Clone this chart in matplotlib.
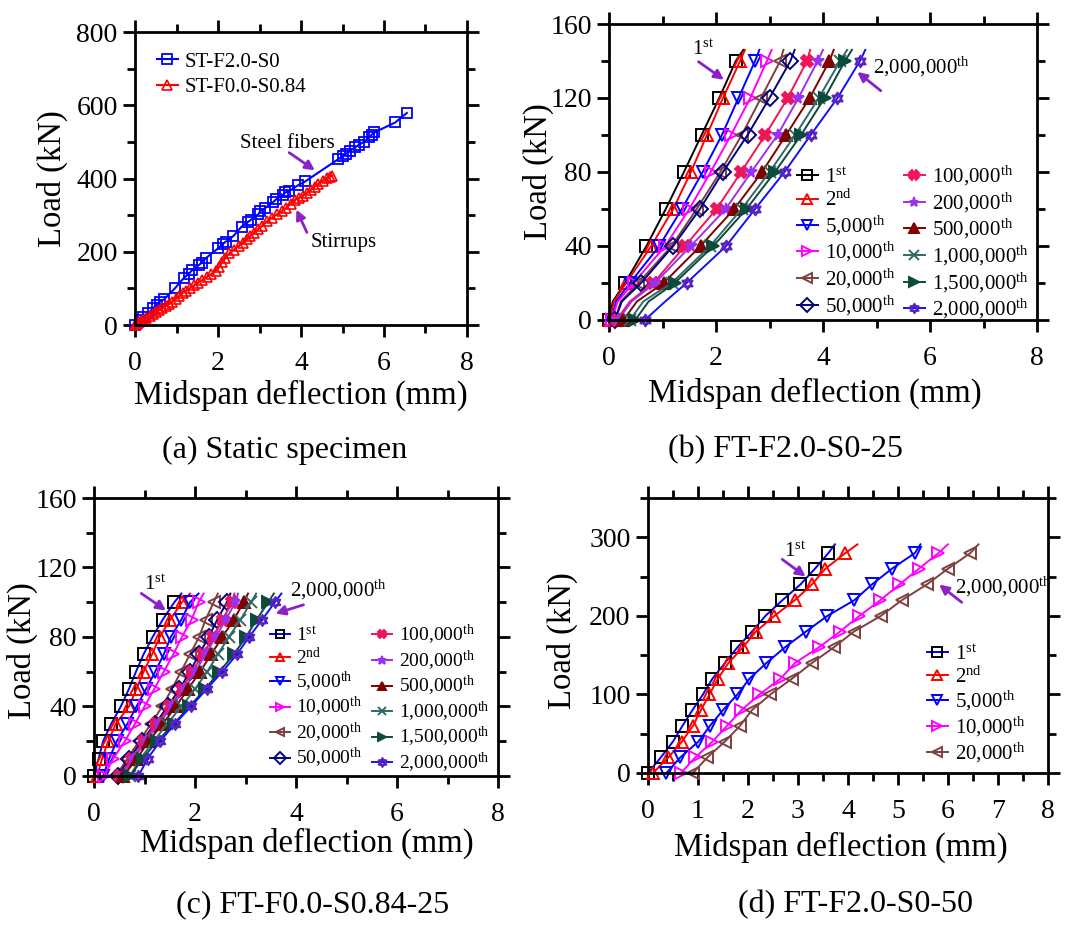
import matplotlib
matplotlib.use('Agg')
import matplotlib.pyplot as plt
from matplotlib.path import Path
from matplotlib.ticker import MultipleLocator
import numpy as np

plt.rcParams['font.family'] = ['Liberation Serif', 'DejaVu Serif']
plt.rcParams['mathtext.fontset'] = 'custom'
plt.rcParams['mathtext.rm'] = 'Liberation Serif'
plt.rcParams['mathtext.it'] = 'Liberation Serif:italic'

# ---- (a) static specimens ----
a_blue_x = [0, 0.12, 0.2, 0.32, 0.44, 0.52, 0.6, 0.7, 0.96, 1.18, 1.29, 1.37, 1.54, 1.61, 1.70,
            2.01, 2.11, 2.19, 2.37, 2.57, 2.73, 2.79, 2.97, 3.01, 3.13, 3.32, 3.40, 3.56, 3.62,
            3.72, 3.92, 4.10, 4.90, 5.02, 5.08, 5.18, 5.31, 5.39, 5.53, 5.65, 5.70, 5.77, 6.27, 6.55]
a_blue_y = [0, 14, 22, 32, 46, 55, 64, 70, 100, 129, 139, 149, 164, 170, 182,
            210, 221, 228, 243, 269, 282, 287, 302, 310, 319, 335, 343, 355, 362,
            366, 381, 392, 453, 462, 467, 476, 485, 492, 501, 513, 519, 526, 553, 579]
a_red_x = [0, 0.05, 0.1, 0.15, 0.2, 0.27, 0.35, 0.43, 0.5, 0.58, 0.66, 0.74, 0.82, 0.9, 0.98,
           1.06, 1.15, 1.24, 1.33, 1.42, 1.52, 1.62, 1.73, 1.84, 1.94, 2.03, 2.1, 2.18, 2.27,
           2.38, 2.5, 2.6, 2.7, 2.78, 2.87, 2.96, 3.06, 3.19, 3.3, 3.42, 3.54, 3.65, 3.75, 3.85,
           3.95, 4.04, 4.14, 4.23, 4.33, 4.42, 4.52, 4.62, 4.7, 4.75]
a_red_y = [0, 3, 7, 10, 14, 18, 24, 30, 35, 40, 46, 52, 58, 64, 71,
           78, 88, 94, 101, 108, 116, 123, 131, 139, 147, 158, 172, 183, 196,
           205, 216, 225, 234, 243, 252, 261, 270, 284, 293, 302, 311, 320, 331, 342,
           347, 353, 361, 369, 378, 386, 394, 401, 405, 408]

# ---- (b) FT-F2.0-S0-25 ----
b_load = [0, 10, 20, 40, 60, 80, 100, 120, 140, 146]
b_defl = [
    [0.0, 0.07, 0.30, 0.70, 1.06, 1.40, 1.73, 2.06, 2.37, 2.51],
    [0.02, 0.09, 0.32, 0.79, 1.20, 1.53, 1.83, 2.13, 2.45, 2.54],
    [0.05, 0.13, 0.39, 0.94, 1.36, 1.75, 2.11, 2.42, 2.73, 2.81],
    [0.05, 0.16, 0.46, 1.05, 1.50, 1.90, 2.28, 2.64, 2.95, 3.04],
    [0.11, 0.22, 0.55, 1.17, 1.64, 2.08, 2.48, 2.84, 3.20, 3.26],
    [0.11, 0.24, 0.60, 1.20, 1.70, 2.13, 2.59, 3.00, 3.39, 3.47],
    [0.14, 0.39, 0.83, 1.42, 2.01, 2.47, 2.92, 3.34, 3.70, 3.76],
    [0.17, 0.42, 0.86, 1.53, 2.18, 2.66, 3.15, 3.54, 3.90, 4.00],
    [0.27, 0.52, 1.02, 1.71, 2.34, 2.86, 3.31, 3.75, 4.12, 4.20],
    [0.39, 0.64, 1.17, 1.89, 2.48, 3.00, 3.48, 3.92, 4.32, 4.45],
    [0.49, 0.74, 1.23, 1.95, 2.57, 3.10, 3.59, 4.03, 4.41, 4.54],
    [0.67, 1.05, 1.45, 2.19, 2.73, 3.28, 3.77, 4.27, 4.69, 4.79],
]

# ---- (c) FT-F0.0-S0.84-25 ----
c_load = [0, 10, 20, 30, 40, 50, 60, 70, 80, 90, 100, 105]
c_defl = [
    [0.0, 0.09, 0.18, 0.34, 0.53, 0.69, 0.83, 0.98, 1.16, 1.36, 1.59, 1.73],
    [0.06, 0.16, 0.28, 0.43, 0.69, 0.84, 0.98, 1.15, 1.30, 1.51, 1.74, 1.90],
    [0.18, 0.30, 0.45, 0.66, 0.84, 1.03, 1.21, 1.38, 1.52, 1.73, 1.90, 2.07],
    [0.20, 0.38, 0.61, 0.81, 1.00, 1.19, 1.38, 1.57, 1.74, 1.93, 2.07, 2.17],
    [0.43, 0.66, 0.89, 1.13, 1.35, 1.54, 1.72, 1.90, 2.08, 2.21, 2.37, 2.45],
    [0.47, 0.70, 0.94, 1.21, 1.46, 1.69, 1.90, 2.08, 2.27, 2.44, 2.63, 2.70],
    [0.51, 0.75, 0.99, 1.23, 1.51, 1.74, 1.94, 2.16, 2.36, 2.55, 2.73, 2.78],
    [0.55, 0.78, 1.03, 1.28, 1.55, 1.78, 2.00, 2.21, 2.41, 2.61, 2.80, 2.85],
    [0.58, 0.85, 1.08, 1.36, 1.62, 1.86, 2.10, 2.32, 2.54, 2.77, 2.96, 3.05],
    [0.71, 0.92, 1.18, 1.45, 1.73, 2.00, 2.24, 2.45, 2.67, 2.90, 3.11, 3.21],
    [0.72, 0.96, 1.25, 1.58, 1.89, 2.20, 2.48, 2.77, 3.01, 3.22, 3.45, 3.56],
    [0.88, 1.06, 1.31, 1.60, 1.92, 2.23, 2.54, 2.83, 3.07, 3.33, 3.58, 3.71],
]

# ---- (d) FT-F2.0-S0-50 ----
d_load = [0, 20, 40, 60, 80, 100, 120, 140, 160, 180, 200, 220, 240, 260, 280, 291]
d_defl = [
    [0, 0.26, 0.50, 0.69, 0.89, 1.10, 1.29, 1.54, 1.79, 2.08, 2.35, 2.69, 3.05, 3.34, 3.61, 3.74],
    [0.10, 0.41, 0.68, 0.90, 1.06, 1.23, 1.40, 1.61, 1.90, 2.16, 2.53, 2.94, 3.28, 3.55, 3.95, 4.19],
    [0.37, 0.65, 1.01, 1.24, 1.50, 1.79, 2.03, 2.37, 2.74, 3.16, 3.59, 4.13, 4.48, 4.88, 5.34, 5.45],
    [0.66, 0.95, 1.29, 1.58, 1.87, 2.23, 2.65, 2.94, 3.42, 3.84, 4.23, 4.65, 5.03, 5.42, 5.81, 6.00],
    [0.90, 1.19, 1.54, 1.84, 2.08, 2.45, 2.88, 3.28, 3.72, 4.12, 4.66, 5.08, 5.58, 6.00, 6.45, 6.61],
]

cycles = ['1$^{\\rm st}$', '2$^{\\rm nd}$', '5,000$^{\\rm th}$', '10,000$^{\\rm th}$',
          '20,000$^{\\rm th}$', '50,000$^{\\rm th}$', '100,000$^{\\rm th}$', '200,000$^{\\rm th}$',
          '500,000$^{\\rm th}$', '1,000,000$^{\\rm th}$', '1,500,000$^{\\rm th}$',
          '2,000,000$^{\\rm th}$']


def hexagram():
    a = np.radians([90, 210, 330])
    up = np.column_stack([np.cos(a), np.sin(a)])
    dn = -up
    verts = np.vstack([up, up[:1], dn, dn[:1]])
    codes = [Path.MOVETO, Path.LINETO, Path.LINETO, Path.CLOSEPOLY] * 2
    return Path(verts, codes)


# line colour, marker, marker edge colour, filled?
styles = [
    ('k', 's', 'k', False),
    ('#FF0000', '^', '#FF0000', False),
    ('#0000FF', 'v', '#0000FF', False),
    ('#FF00FF', '>', '#FF00FF', False),
    ('#7F3F3F', '<', '#7F3F3F', False),
    ('#000080', 'D', '#000080', False),
    ('#F0145A', 'X', '#F0145A', True),
    ('#9B30F0', '*', '#9B30F0', True),
    ('#800000', '^', '#800000', True),
    ('#2F6A66', 'x', '#2F6A66', True),
    ('#0B4A3C', '>', '#0B4A3C', True),
    ('#1010FF', hexagram(), '#5A22C0', False),
]
PURPLE = '#8A22C8'


def style_axes(ax, xmaj, xmin, xmax, ymaj, ymin, ymax):
    ax.set_xlim(0, xmax)
    ax.set_ylim(0, ymax)
    ax.xaxis.set_major_locator(MultipleLocator(xmaj))
    ax.xaxis.set_minor_locator(MultipleLocator(xmin))
    ax.yaxis.set_major_locator(MultipleLocator(ymaj))
    ax.yaxis.set_minor_locator(MultipleLocator(ymin))
    ax.tick_params(which='both', direction='out', top=True, right=True, width=2,
                   labelsize=20)
    ax.tick_params(axis='x', which='both', pad=10)
    ax.tick_params(axis='y', which='both', pad=4)
    ax.tick_params(which='major', length=8.5)
    ax.tick_params(which='minor', length=5.5)
    for s in ax.spines.values():
        s.set_linewidth(2)
    ax.set_xlabel('Midspan deflection (mm)', fontsize=23.5)
    ax.set_ylabel('Load (kN)', fontsize=23.5)
    ax.xaxis.label.set_va('center')
    ax.yaxis.label.set_va('center')


def draw_series(ax, loads, defl, n, skip, ms, ones_blue=False):
    for i in range(n):
        lc, m, mc, filled = styles[i]
        if i == 0 and ones_blue:
            lc = '#0000FF'
        mev = [j for j in range(len(loads)) if j not in skip]
        ax.plot(defl[i], loads, color=lc, lw=1.4, marker=m, ms=ms, mec=mc,
                mfc=mc if filled else 'none', mew=1.4, markevery=mev,
                label=cycles[i], clip_on=False)


def arrow(ax, start, end):
    ax.annotate('', xy=end, xytext=start,
                arrowprops=dict(arrowstyle='-|>', color=PURPLE, lw=2, mutation_scale=14))


leg_kw = dict(loc='upper left', frameon=False, borderpad=0, borderaxespad=0,
              handlelength=1.0, handletextpad=0.35)

fig = plt.figure(figsize=(10.81, 9.34), dpi=100)
axa = fig.add_axes([0.1249, 0.652, 0.3071, 0.3137])
axb = fig.add_axes([0.5634, 0.6574, 0.3959, 0.3169])
axc = fig.add_axes([0.0870, 0.1692, 0.3737, 0.2976])
axd = fig.add_axes([0.5994, 0.1724, 0.3700, 0.2944])

# (a)
axa.plot(a_blue_x, a_blue_y, color='#0000FF', lw=1.5, marker='s', ms=7, mfc='none',
         mew=1.3, label='ST-F2.0-S0', clip_on=False)
axa.plot(a_red_x, a_red_y, color='#FF0000', lw=1.5, marker='^', ms=6.5, mfc='none',
         mew=1.2, label='ST-F0.0-S0.84', clip_on=False)
style_axes(axa, 2, 1, 8, 200, 100, 800)
axa.legend(bbox_to_anchor=(0.066, 0.932), fontsize=15, labelspacing=0.3, **leg_kw)
axa.text(3.66, 497, 'Steel fibers', fontsize=15, ha='center', va='center')
arrow(axa, (3.66, 475), (4.39, 418))
axa.text(4.22, 224, 'Stirrups', fontsize=15, ha='left', va='center')
arrow(axa, (4.17, 246), (3.86, 322))

# (b)
draw_series(axb, b_load, b_defl, 12, [1, 9], 8.5)
style_axes(axb, 2, 1, 8, 40, 20, 160)
axb.legend(bbox_to_anchor=(0.439, 0.527), ncol=2, fontsize=15, labelspacing=0.12,
           columnspacing=0.4, markerscale=0.8, **leg_kw)
axb.text(1.76, 146, '1$^{\\rm st}$', fontsize=15, ha='center', va='center')
arrow(axb, (1.63, 140.5), (2.19, 129))
axb.text(4.93, 137, '2,000,000$^{\\rm th}$', fontsize=15, ha='left', va='center')
arrow(axb, (5.12, 123), (4.60, 135))

# (c)
draw_series(axc, c_load, c_defl, 12, [11], 8, ones_blue=True)
style_axes(axc, 2, 1, 8, 40, 20, 160)
axc.legend(bbox_to_anchor=(0.436, 0.55), ncol=2, fontsize=14, labelspacing=0.08,
           columnspacing=0.5, markerscale=0.8, **leg_kw)
axc.text(1.21, 110, '1$^{\\rm st}$', fontsize=15, ha='center', va='center')
arrow(axc, (0.89, 106), (1.47, 94.4))
axc.text(3.88, 107, '2,000,000$^{\\rm th}$', fontsize=15, ha='left', va='center')
arrow(axc, (4.20, 99), (3.54, 93))

# (d)
draw_series(axd, d_load, d_defl, 5, [15], 9, ones_blue=True)
style_axes(axd, 1, 0.5, 8, 100, 50, 350)
axd.legend(bbox_to_anchor=(0.6975, 0.465), fontsize=15, labelspacing=0.08,
           markerscale=0.8, **leg_kw)
axd.text(2.94, 281, '1$^{\\rm st}$', fontsize=15, ha='center', va='center')
arrow(axd, (2.64, 274), (3.2, 248))
axd.text(6.14, 237, '2,000,000$^{\\rm th}$', fontsize=15, ha='left', va='center')
arrow(axd, (6.32, 215), (5.78, 242))

# axis label positions
axa.xaxis.set_label_coords(0.5, -0.239)
axa.yaxis.set_label_coords(-0.25, 0.5)
axb.xaxis.set_label_coords(0.481, -0.247)
axb.yaxis.set_label_coords(-0.165, 0.5)
axc.xaxis.set_label_coords(0.527, -0.241)
axc.yaxis.set_label_coords(-0.178, 0.45)
axd.xaxis.set_label_coords(0.483, -0.269)
axd.yaxis.set_label_coords(-0.215, 0.48)

# captions
fig.text(285 / 1081, 1 - 450 / 934, '(a) Static specimen', fontsize=23, ha='center', va='center')
fig.text(785 / 1081, 1 - 450 / 934, '(b) FT-F2.0-S0-25', fontsize=23, ha='center', va='center')
fig.text(313 / 1081, 1 - 905 / 934, '(c) FT-F0.0-S0.84-25', fontsize=23, ha='center', va='center')
fig.text(856 / 1081, 1 - 905 / 934, '(d) FT-F2.0-S0-50', fontsize=23, ha='center', va='center')

fig.savefig('out.png', dpi=100)
